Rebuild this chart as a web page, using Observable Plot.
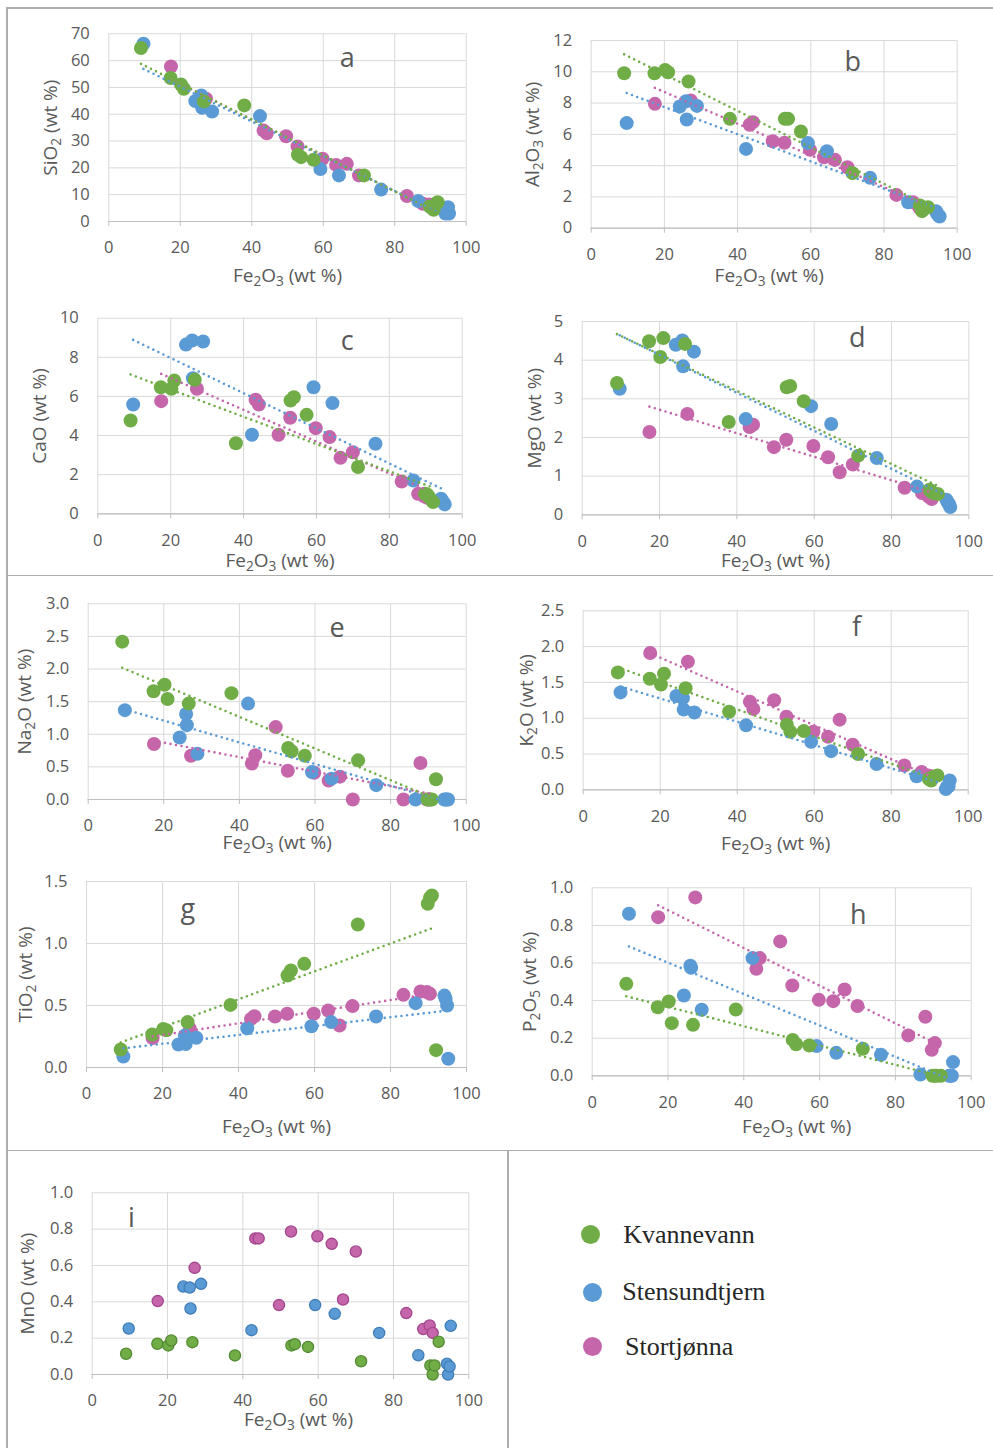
<!DOCTYPE html>
<html><head><meta charset="utf-8">
<script src="https://cdn.jsdelivr.net/npm/d3@7"></script>
<script src="https://cdn.jsdelivr.net/npm/@observablehq/plot@0.6"></script>
<style>
body{margin:0;background:#fff;}
#page{position:relative;width:993px;height:1448px;overflow:hidden;font-family:"Open Sans",sans-serif;background:#fff;}
.panel{position:absolute;}
.panel svg{display:block;overflow:visible;}
.rule{position:absolute;background:#adadad;}
.lg-dot{position:absolute;width:19px;height:19px;border-radius:50%;}
.lg-txt{position:absolute;font-family:"Liberation Serif","DejaVu Serif",serif;font-size:26px;line-height:26px;color:#262626;white-space:nowrap;}
</style></head>
<body><div id="page"></div>
<script>
// ---------- data ----------
const series = ["Kvannevann", "Stensundtjern", "Stortjønna"];
const colors = ["#70AD47", "#5B9BD5", "#C566AB"];
const xTicks = [0, 20, 40, 60, 80, 100];
const xLabel = "Fe_2O_3 (wt %)";

// Fe2O3 of each sample
const feK = [9.0, 17.3, 20.2, 21.0, 26.6, 37.9, 52.9, 53.8, 57.3, 71.4, 89.8, 90.4, 90.9, 92.0];
const feS = [9.7, 24.2, 25.9, 26.1, 28.9, 42.3, 59.2, 64.4, 76.2, 86.6, 94.2, 94.5, 94.9, 95.2];
const feT = [17.4, 27.2, 43.3, 44.2, 49.6, 52.8, 59.8, 63.6, 66.6, 70.0, 83.4, 87.9, 89.6, 90.4];

const sioK = [64.7, 53.5, 51.1, 49.5, 44.8, 43.3, 24.9, 24.0, 23.0, 17.2, 5.6, 5.0, 4.4, 7.2];
const sioS = [66.3, 44.9, 47.0, 42.4, 41.0, 39.3, 19.6, 17.2, 11.9, 7.6, 3.0, 3.2, 5.3, 3.0];
const sioT = [57.8, 45.8, 33.9, 32.9, 31.8, 28.0, 23.4, 21.1, 21.5, 17.2, 9.5, 6.6, 6.3, 5.3];

const alK = [9.91, 9.91, 10.12, 9.97, 9.38, 6.99, 6.99, 6.99, 6.18, 3.52, 1.45, 1.09, 1.24, 1.34];
const alS = [6.72, 7.78, 8.12, 6.95, 7.82, 5.07, 5.44, 4.92, 3.22, 1.66, 1.09, 0.92, 0.81, 0.75];
const alT = [7.95, 8.16, 6.61, 6.78, 5.56, 5.46, 5.01, 4.54, 4.37, 3.90, 2.13, 1.66, 1.34, 1.13];

const caK = [4.77, 6.47, 6.39, 6.81, 6.85, 3.61, 5.79, 5.96, 5.06, 2.39, 1.02, 0.99, 0.85, 0.60];
const caS = [5.59, 8.65, 8.86, 6.93, 8.81, 4.04, 6.47, 5.66, 3.58, 1.70, 0.77, 0.65, 0.58, 0.48];
const caT = [5.76, 6.39, 5.83, 5.59, 4.04, 4.91, 4.38, 3.92, 2.86, 3.15, 1.65, 1.02, 0.89, 0.82];

const mgK = [3.41, 4.49, 4.08, 4.57, 4.42, 2.40, 3.30, 3.33, 2.94, 1.53, 0.65, 0.59, 0.56, 0.54];
const mgS = [3.26, 4.40, 4.51, 3.84, 4.22, 2.48, 2.81, 2.35, 1.47, 0.73, 0.39, 0.33, 0.28, 0.20];
const mgT = [2.14, 2.61, 2.27, 2.33, 1.75, 1.94, 1.78, 1.49, 1.10, 1.30, 0.70, 0.56, 0.47, 0.41];

const naK = [2.42, 1.66, 1.76, 1.54, 1.47, 1.63, 0.79, 0.74, 0.67, 0.60, 0.0, 0.0, 0.0, 0.31];
const naS = [1.37, 0.95, 1.31, 1.14, 0.70, 1.47, 0.42, 0.32, 0.22, 0.0, 0.0, 0.0, 0.0, 0.0];
const naT = [0.85, 0.67, 0.55, 0.68, 1.11, 0.44, 0.41, 0.29, 0.35, 0.0, 0.0, 0.56, 0.0, 0.0];

const kK = [1.64, 1.55, 1.47, 1.62, 1.42, 1.09, 0.91, 0.81, 0.82, 0.50, 0.15, 0.13, 0.18, 0.20];
const kS = [1.36, 1.31, 1.28, 1.12, 1.08, 0.90, 0.67, 0.54, 0.36, 0.19, 0.01, 0.04, 0.05, 0.13];
const kT = [1.91, 1.79, 1.23, 1.13, 1.25, 1.02, 0.81, 0.74, 0.98, 0.63, 0.34, 0.25, 0.20, 0.19];

const tiK = [0.145, 0.266, 0.31, 0.30, 0.366, 0.505, 0.742, 0.782, 0.836, 1.153, 1.32, 1.37, 1.387, 0.14];
const tiS = [0.089, 0.185, 0.258, 0.19, 0.24, 0.317, 0.333, 0.366, 0.411, 0.519, 0.58, 0.554, 0.50, 0.07];
const tiT = [0.237, 0.312, 0.392, 0.414, 0.411, 0.433, 0.433, 0.46, 0.339, 0.495, 0.586, 0.613, 0.608, 0.594];

const pK = [0.489, 0.365, 0.395, 0.28, 0.271, 0.353, 0.191, 0.168, 0.161, 0.144, 0.0, 0.0, 0.0, 0.0];
const pS = [0.862, 0.427, 0.585, 0.575, 0.351, 0.626, 0.158, 0.122, 0.112, 0.007, 0.0, 0.0, 0.0, 0.073];
const pT = [0.844, 0.949, 0.569, 0.626, 0.715, 0.48, 0.404, 0.397, 0.459, 0.371, 0.215, 0.314, 0.138, 0.174];

const mnK = [0.114, 0.169, 0.16, 0.187, 0.178, 0.105, 0.16, 0.167, 0.152, 0.073, 0.05, 0.0, 0.05, 0.18];
const mnS = [0.253, 0.484, 0.479, 0.363, 0.499, 0.244, 0.382, 0.334, 0.229, 0.106, 0.059, 0.0, 0.044, 0.268];
const mnT = [0.404, 0.587, 0.749, 0.749, 0.382, 0.787, 0.761, 0.719, 0.413, 0.677, 0.338, 0.25, 0.27, 0.229];

const fe = [feK, feS, feT];
const f1 = d3.format(".1f");

// ---------- layout ----------
const panels = [
  {key:"a", ylabel:"SiO_2 (wt %)", ys:[sioK,sioS,sioT], ymax:70, step:10, fmt:d=>d, rect:[108.3,465.7,33.3,221.0], box:[8,8,490,282], yoff:58, xoff:54, xdx:0, lt:[238.4,33.4], trend:true},
  {key:"b", ylabel:"Al_2O_3 (wt %)", ys:[alK,alS,alT], ymax:12, step:2, fmt:d=>d, rect:[590.7,956.7,40.0,227.7], box:[500,8,493,282], yoff:58, xoff:47.3, xdx:-5, lt:[261.6,30], trend:true},
  {key:"c", ylabel:"CaO (wt %)", ys:[caK,caS,caT], ymax:10, step:2, fmt:d=>d, rect:[97.3,461.7,317.7,513.3], box:[8,290,490,284], yoff:58, xoff:46.7, xdx:0, lt:[249.4,31.6], trend:true},
  {key:"d", ylabel:"MgO (wt %)", ys:[mgK,mgS,mgT], ymax:5, step:1, fmt:d=>d, rect:[581.7,968.3,321.0,514.3], box:[500,290,493,284], yoff:47, xoff:45.7, xdx:0, lt:[275,25.7], trend:true},
  {key:"e", ylabel:"Na_2O (wt %)", ys:[naK,naS,naT], ymax:3, step:0.5, fmt:f1, rect:[87.7,465.7,603.3,799.0], box:[8,577,490,277], yoff:63, xoff:43.5, xdx:0, lt:[249,32.7], trend:true},
  {key:"f", ylabel:"K_2O (wt %)", ys:[kK,kS,kT], ymax:2.5, step:0.5, fmt:f1, rect:[582.7,967.7,610.3,789.3], box:[500,577,493,277], yoff:56, xoff:54, xdx:0, lt:[273.3,24.7], trend:true},
  {key:"g", ylabel:"TiO_2 (wt %)", ys:[tiK,tiS,tiT], ymax:1.5, step:0.5, fmt:f1, rect:[86.0,466.0,881.0,1067.0], box:[8,855,490,293], yoff:61, xoff:59.7, xdx:0, lt:[101.3,36], trend:true},
  {key:"h", ylabel:"P_2O_5 (wt %)", ys:[pK,pS,pT], ymax:1, step:0.2, fmt:f1, rect:[591.7,970.7,887.3,1075.3], box:[500,855,493,293], yoff:62, xoff:51.4, xdx:15, lt:[266,36], trend:true},
  {key:"i", ylabel:"MnO (wt %)", ys:[mnK,mnS,mnT], ymax:1, step:0.2, fmt:f1, rect:[91.7,468.3,1192.3,1374.0], box:[8,1152,498,296], yoff:64, xoff:45, xdx:18, lt:[39.3,34.4], trend:false, outline:true}
];
const strokeDark = ["#548A33", "#3F7DB8", "#A3458C"];
const TICK_FS = 16.5, LABEL_FS = 19, LETTER_FS = 27;

function subify(svg, fs) {
  svg.querySelectorAll("text").forEach(t => {
    const s = t.textContent;
    if (!s.includes("_")) return;
    t.textContent = "";
    const parts = s.split(/_(\d)/);
    const sh = fs * 0.22;
    let shifted = false;
    parts.forEach((part, i) => {
      if (!part) return;
      const ts = document.createElementNS("http://www.w3.org/2000/svg", "tspan");
      ts.textContent = part;
      if (i % 2 === 1) { ts.setAttribute("font-size", (fs * 0.72).toFixed(2)); ts.setAttribute("dy", sh.toFixed(2)); shifted = true; }
      else if (shifted) { ts.setAttribute("dy", (-sh).toFixed(2)); shifted = false; }
      t.appendChild(ts);
    });
  });
}

const page = document.getElementById("page");
const order = [2, 1, 0];

for (const p of panels) {
  const data = p.ys.map((arr, s) => arr.map((v, i) => ({x: fe[s][i], y: v, s: series[s]})));
  const [x0, x1, y0, y1] = p.rect;
  const [L, T, W, H] = p.box;
  const yTicks = d3.range(0, p.ymax + p.step / 2, p.step).map(v => +v.toFixed(4));
  const marks = [
    Plot.gridX(xTicks, {stroke: "#d9d9d9", strokeOpacity: 1, strokeWidth: 1}),
    Plot.gridY(yTicks, {stroke: "#d9d9d9", strokeOpacity: 1, strokeWidth: 1}),
    Plot.ruleY([0], {stroke: "#bfbfbf", strokeWidth: 1.2}),
    Plot.axisX(xTicks, {tickSize: 5, tickPadding: 15, stroke: "#bfbfbf", fill: "#595959", fontSize: TICK_FS, label: null}),
    Plot.axisY(yTicks, {tickSize: 0, tickPadding: 19, fill: "#595959", fontSize: TICK_FS, tickFormat: p.fmt, label: null})
  ];
  for (const s of order) {
    marks.push(Plot.dot(data[s], p.outline
      ? {x: "x", y: "y", r: 5.6, fill: colors[s], stroke: strokeDark[s], strokeWidth: 1.3}
      : {x: "x", y: "y", r: 7, fill: colors[s]}));
  }
  if (p.trend) {
    for (const s of order) {
      marks.push(Plot.linearRegressionY(data[s], {x: "x", y: "y", stroke: colors[s], ci: 0, strokeWidth: 2.6, strokeDasharray: "0 5.6", strokeLinecap: "round"}));
    }
  }
  marks.push(Plot.text([p.ylabel], {frameAnchor: "left", rotate: -90, dx: -p.yoff, text: d => d, fontSize: LABEL_FS, fill: "#595959", textAnchor: "middle", lineAnchor: "middle"}));
  marks.push(Plot.text([xLabel], {frameAnchor: "bottom", dy: p.xoff, dx: p.xdx, text: d => d, fontSize: LABEL_FS, fill: "#595959", textAnchor: "middle", lineAnchor: "middle"}));
  marks.push(Plot.text([p.key], {frameAnchor: "top-left", dx: p.lt[0], dy: p.lt[1], text: d => d, fontSize: LETTER_FS, fill: "#595959", textAnchor: "middle", lineAnchor: "bottom"}));

  const svg = Plot.plot({
    width: W, height: H,
    marginLeft: x0 - L, marginRight: L + W - x1, marginTop: y0 - T, marginBottom: T + H - y1,
    x: {domain: [0, 100], label: null},
    y: {domain: [0, p.ymax], label: null},
    style: {fontFamily: "'Open Sans', sans-serif", fontSize: TICK_FS + "px", color: "#595959", background: "transparent", overflow: "visible"},
    marks
  });
  subify(svg, LABEL_FS);
  const div = document.createElement("div");
  div.className = "panel";
  div.style.left = L + "px"; div.style.top = T + "px"; div.style.width = W + "px"; div.style.height = H + "px";
  div.appendChild(svg);
  page.appendChild(div);
}

// frame rules
const rules = [[6, 7, 987, 1.5], [6, 7, 1.5, 1441], [6, 574.5, 987, 1.5], [6, 1149.5, 987, 1.5], [507, 1150, 1.5, 298]];
for (const [l, t, w, h] of rules) {
  const r = document.createElement("div");
  r.className = "rule";
  Object.assign(r.style, {left: l + "px", top: t + "px", width: w + "px", height: h + "px"});
  page.appendChild(r);
}

// legend
const lgDots = [[590.7, 1234], [592, 1292.7], [592, 1346.7]];
const lgText = [[623.3, 1244], [622.3, 1300.7], [625, 1356]];
series.forEach((name, s) => {
  const d = document.createElement("div");
  d.className = "lg-dot";
  Object.assign(d.style, {left: (lgDots[s][0] - 9.5) + "px", top: (lgDots[s][1] - 9.5) + "px", background: colors[s]});
  page.appendChild(d);
  const t = document.createElement("div");
  t.className = "lg-txt";
  t.textContent = name;
  Object.assign(t.style, {left: lgText[s][0] + "px", top: (lgText[s][1] - 21.8) + "px"});
  page.appendChild(t);
});
</script></body></html>
